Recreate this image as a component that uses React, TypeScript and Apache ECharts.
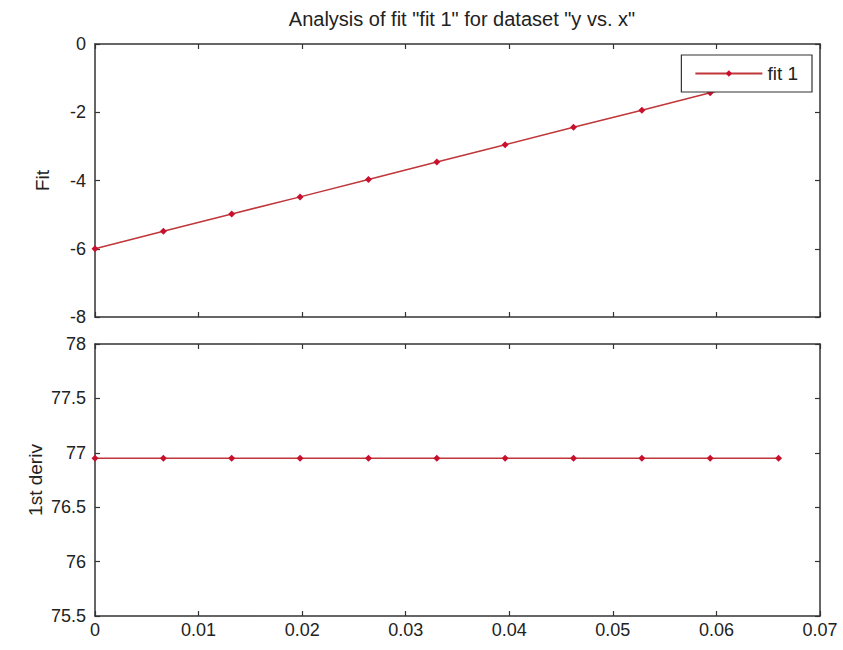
import React, { useEffect, useRef } from "react";
import * as echarts from "echarts";

const xValues = [0, 0.0066, 0.0132, 0.0198, 0.0264, 0.033, 0.0396, 0.0462, 0.0528, 0.0594, 0.066];
const fitValues = [-6.0, -5.49, -4.98, -4.48, -3.97, -3.46, -2.95, -2.44, -1.94, -1.43, -0.92];
const derivValues = [76.95, 76.95, 76.95, 76.95, 76.95, 76.95, 76.95, 76.95, 76.95, 76.95, 76.95];
const seriesName = "fit 1";
const titleText = 'Analysis of fit "fit 1" for dataset "y vs. x"';

const FONT = "Liberation Sans, Arial, sans-serif";
const AX = "#333333";
const LINE = "#c0363a";
const MARK = "#c8102e";

export default function App() {
  const ref = useRef<HTMLDivElement>(null);
  useEffect(() => {
    if (!ref.current) return;
    const chart = echarts.init(ref.current, null, { renderer: "svg" });
    const fmtX = (v: number) => String(Math.round(v * 100) / 100);
    const baseAxisLine = { show: true, lineStyle: { color: AX, width: 1.5 } };
    const tick = { show: true, inside: true, length: 5, lineStyle: { color: AX, width: 1.2 } };
    const lbl = { color: "#222", fontSize: 18, fontFamily: FONT };
    const xAxisCommon = (grid: number, pos: "bottom" | "top", showLabel: boolean) => ({
      type: "value" as const,
      gridIndex: grid,
      position: pos,
      min: 0,
      max: 0.07,
      interval: 0.01,
      axisLine: { ...baseAxisLine, onZero: false },
      axisTick: tick,
      splitLine: { show: false },
      axisLabel: { ...lbl, show: showLabel, formatter: fmtX, margin: 5 },
    });
    const yAxisCommon = (grid: number, pos: "left" | "right", min: number, max: number, interval: number, name: string, showLabel: boolean, gap: number) => ({
      type: "value" as const,
      gridIndex: grid,
      position: pos,
      min,
      max,
      interval,
      name: showLabel ? name : "",
      nameLocation: "middle" as const,
      nameGap: gap,
      nameMoveOverlap: false,
      nameTextStyle: { color: "#222", fontSize: 19, fontFamily: FONT },
      axisLine: { ...baseAxisLine, onZero: false },
      axisTick: tick,
      splitLine: { show: false },
      axisLabel: { ...lbl, show: showLabel, margin: 9 },
    });
    const seriesStyle = {
      type: "line" as const,
      name: seriesName,
      symbol: "diamond",
      symbolSize: 7,
      showSymbol: true,
      itemStyle: { color: MARK },
      lineStyle: { color: LINE, width: 1.5 },
    };
    chart.setOption({
      animation: false,
      backgroundColor: "#ffffff",
      title: {
        text: titleText,
        left: 457,
        textAlign: "center",
        top: 4,
        textStyle: { fontSize: 20, fontWeight: "normal", color: "#222", fontFamily: FONT },
      },
      legend: {
        data: [seriesName],
        right: 31,
        top: 55,
        orient: "vertical",
        itemWidth: 67,
        itemHeight: 8,
        padding: [9, 14, 9, 13],
        borderColor: AX,
        borderWidth: 1.2,
        backgroundColor: "#ffffff",
        textStyle: { color: "#222", fontSize: 19, fontFamily: FONT },
        z: 10,
      },
      grid: [
        { left: 95, right: 23, top: 44, height: 273 },
        { left: 95, right: 23, top: 344, height: 272 },
      ],
      xAxis: [
        xAxisCommon(0, "bottom", false),
        xAxisCommon(0, "top", false),
        xAxisCommon(1, "bottom", true),
        xAxisCommon(1, "top", false),
      ],
      yAxis: [
        yAxisCommon(0, "left", -8, 0, 2, "Fit", true, 43),
        yAxisCommon(0, "right", -8, 0, 2, "", false, 43),
        yAxisCommon(1, "left", 75.5, 78, 0.5, "1st deriv", true, 50),
        yAxisCommon(1, "right", 75.5, 78, 0.5, "", false, 50),
      ],
      series: [
        {
          ...seriesStyle,
          xAxisIndex: 0,
          yAxisIndex: 0,
          data: xValues.map((x, i) => [x, fitValues[i]]),
        },
        {
          ...seriesStyle,
          name: seriesName + " deriv",
          xAxisIndex: 2,
          yAxisIndex: 2,
          data: xValues.map((x, i) => [x, derivValues[i]]),
        },
      ],
    });
    return () => chart.dispose();
  }, []);
  return (
    <div
      ref={ref}
      style={{ position: "fixed", left: 0, top: 0, width: 843, height: 650, background: "#fff" }}
    />
  );
}
